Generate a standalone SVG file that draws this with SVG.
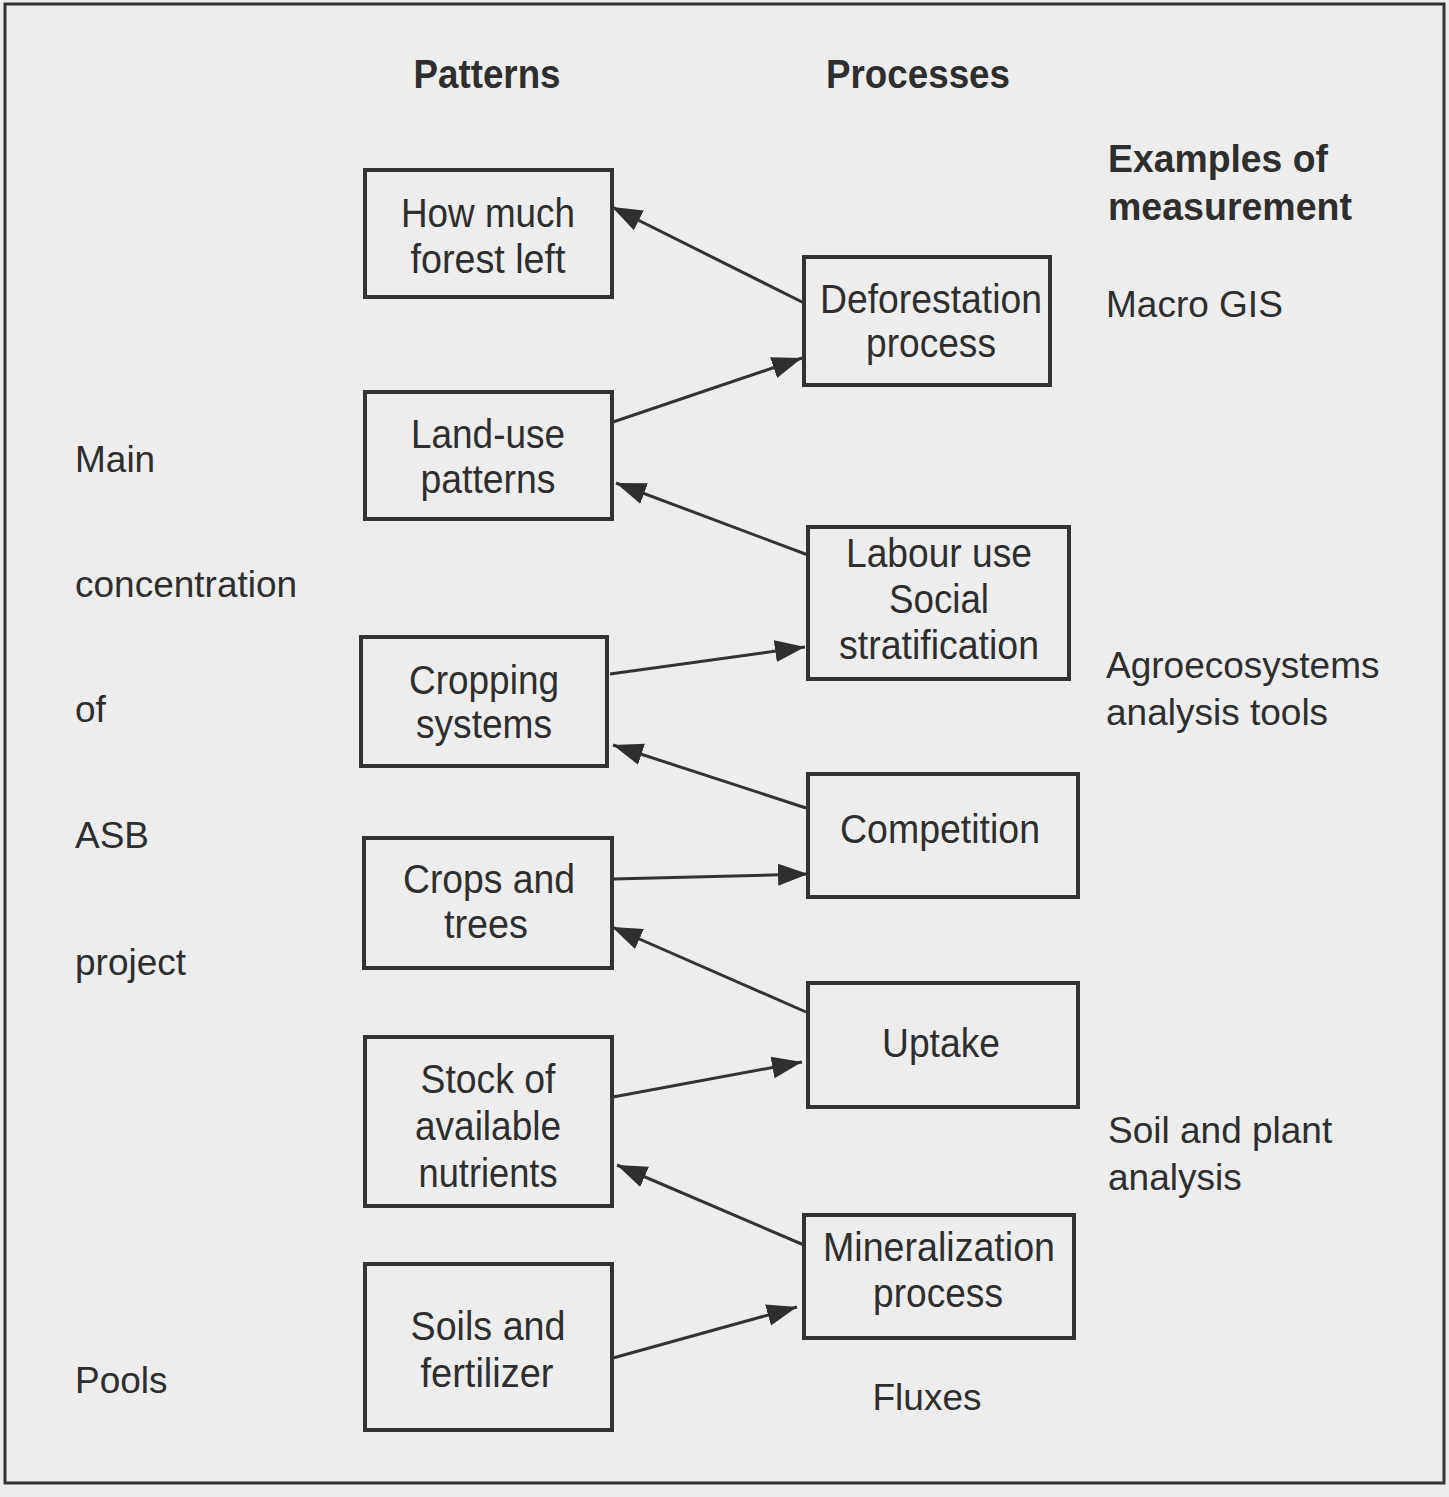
<svg xmlns="http://www.w3.org/2000/svg" width="1449" height="1497" viewBox="0 0 1449 1497">
<defs>
<marker id="ah" markerUnits="userSpaceOnUse" markerWidth="32" markerHeight="24" viewBox="0 0 32 24" refX="30" refY="12" orient="auto">
<path d="M0,1 L30,12 L0,23 Z" fill="#2f2f2f"/>
</marker>
<style>
.bg{fill:#ededed}
.frame{fill:none;stroke:#333;stroke-width:3}
.box{fill:none;stroke:#333;stroke-width:4}
.edge{fill:none;stroke:#333;stroke-width:3;marker-end:url(#ah)}
text{font-family:"Liberation Sans",Arial,sans-serif;fill:#2e2e2e}
.bt{font-size:40px;text-anchor:middle}
.hd{font-size:40px;font-weight:bold;text-anchor:middle}
.hl{font-size:38px;font-weight:bold}
.lb{font-size:37px}
</style>
</defs>
<rect class="bg" x="0" y="0" width="1449" height="1497"/>
<rect class="frame" x="5" y="4" width="1439" height="1479"/>

<g id="headers">
<text class="hd" x="487" y="88" textLength="147" lengthAdjust="spacingAndGlyphs">Patterns</text>
<text class="hd" x="918" y="88" textLength="184" lengthAdjust="spacingAndGlyphs">Processes</text>
<text class="hl" x="1108" y="172" textLength="220" lengthAdjust="spacingAndGlyphs">Examples of</text>
<text class="hl" x="1108" y="220" textLength="244" lengthAdjust="spacingAndGlyphs">measurement</text>
</g>

<g id="left-labels">
<text class="lb" x="75" y="472">Main</text>
<text class="lb" x="75" y="597">concentration</text>
<text class="lb" x="75" y="722">of</text>
<text class="lb" x="75" y="848">ASB</text>
<text class="lb" x="75" y="975">project</text>
<text class="lb" x="75" y="1393">Pools</text>
</g>

<g id="right-labels">
<text class="lb" x="1106" y="317">Macro GIS</text>
<text class="lb" x="1106" y="678">Agroecosystems</text>
<text class="lb" x="1106" y="725">analysis tools</text>
<text class="lb" x="1108" y="1143">Soil and plant</text>
<text class="lb" x="1108" y="1190">analysis</text>
<text class="lb" x="927" y="1410" text-anchor="middle">Fluxes</text>
</g>

<g id="connectors">
<path class="edge" d="M804,303 L612,207"/>
<path class="edge" d="M613,422 L802,358"/>
<path class="edge" d="M808,555 L616,483"/>
<path class="edge" d="M610,674 L805,647"/>
<path class="edge" d="M806,808 L613,745"/>
<path class="edge" d="M613,879 L808,874"/>
<path class="edge" d="M806,1012 L612,927"/>
<path class="edge" d="M613,1097 L802,1062"/>
<path class="edge" d="M804,1245 L617,1165"/>
<path class="edge" d="M613,1358 L797,1307"/>
</g>

<g id="n-forest">
<rect class="box" x="365" y="170" width="247" height="127"/>
<text class="bt" x="488" y="227" textLength="174" lengthAdjust="spacingAndGlyphs">How much</text>
<text class="bt" x="488" y="273" textLength="155" lengthAdjust="spacingAndGlyphs">forest left</text>
</g>
<g id="n-deforestation">
<rect class="box" x="804" y="257" width="246" height="128"/>
<text class="bt" x="931" y="313" textLength="222" lengthAdjust="spacingAndGlyphs">Deforestation</text>
<text class="bt" x="931" y="357" textLength="130" lengthAdjust="spacingAndGlyphs">process</text>
</g>
<g id="n-landuse">
<rect class="box" x="365" y="392" width="247" height="127"/>
<text class="bt" x="488" y="448" textLength="154" lengthAdjust="spacingAndGlyphs">Land-use</text>
<text class="bt" x="488" y="493" textLength="135" lengthAdjust="spacingAndGlyphs">patterns</text>
</g>
<g id="n-labour">
<rect class="box" x="808" y="527" width="261" height="152"/>
<text class="bt" x="939" y="567" textLength="186" lengthAdjust="spacingAndGlyphs">Labour use</text>
<text class="bt" x="939" y="613" textLength="100" lengthAdjust="spacingAndGlyphs">Social</text>
<text class="bt" x="939" y="659" textLength="200" lengthAdjust="spacingAndGlyphs">stratification</text>
</g>
<g id="n-cropping">
<rect class="box" x="361" y="637" width="246" height="129"/>
<text class="bt" x="484" y="694" textLength="150" lengthAdjust="spacingAndGlyphs">Cropping</text>
<text class="bt" x="484" y="738" textLength="136" lengthAdjust="spacingAndGlyphs">systems</text>
</g>
<g id="n-competition">
<rect class="box" x="808" y="774" width="270" height="123"/>
<text class="bt" x="940" y="843" textLength="200" lengthAdjust="spacingAndGlyphs">Competition</text>
</g>
<g id="n-cropstrees">
<rect class="box" x="364" y="838" width="248" height="130"/>
<text class="bt" x="489" y="893" textLength="172" lengthAdjust="spacingAndGlyphs">Crops and</text>
<text class="bt" x="486" y="938" textLength="84" lengthAdjust="spacingAndGlyphs">trees</text>
</g>
<g id="n-uptake">
<rect class="box" x="808" y="983" width="270" height="124"/>
<text class="bt" x="941" y="1057" textLength="118" lengthAdjust="spacingAndGlyphs">Uptake</text>
</g>
<g id="n-stock">
<rect class="box" x="365" y="1037" width="247" height="169"/>
<text class="bt" x="488" y="1093" textLength="135" lengthAdjust="spacingAndGlyphs">Stock of</text>
<text class="bt" x="488" y="1140" textLength="146" lengthAdjust="spacingAndGlyphs">available</text>
<text class="bt" x="488" y="1187" textLength="139" lengthAdjust="spacingAndGlyphs">nutrients</text>
</g>
<g id="n-mineralization">
<rect class="box" x="804" y="1215" width="270" height="123"/>
<text class="bt" x="939" y="1261" textLength="232" lengthAdjust="spacingAndGlyphs">Mineralization</text>
<text class="bt" x="938" y="1307" textLength="130" lengthAdjust="spacingAndGlyphs">process</text>
</g>
<g id="n-soils">
<rect class="box" x="365" y="1264" width="247" height="166"/>
<text class="bt" x="488" y="1340" textLength="155" lengthAdjust="spacingAndGlyphs">Soils and</text>
<text class="bt" x="487" y="1387" textLength="133" lengthAdjust="spacingAndGlyphs">fertilizer</text>
</g>
</svg>
